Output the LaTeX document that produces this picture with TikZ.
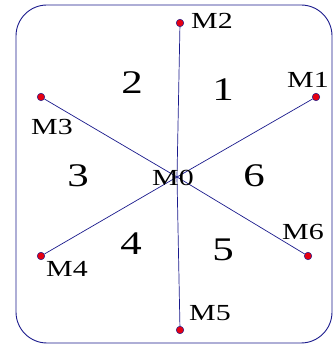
\documentclass[tikz,border=0pt]{standalone}
\usepackage{fontspec}
\setmainfont{Liberation Serif}
\newfontfamily\wideserif[FakeStretch=1.3]{Liberation Serif}
\usepackage{xcolor}
\usepackage{tikz}
\usetikzlibrary{positioning}
\definecolor{navy}{HTML}{1A1A8C}
\definecolor{dotred}{HTML}{E60012}
\tikzset{
  pin/.style={circle,draw=navy,fill=dotred,inner sep=0pt,minimum size=7.5pt,line width=0.5pt},
  ray/.style={draw=navy,line width=0.7pt},
  tag/.style={font=\wideserif\fontsize{23}{23}\selectfont,inner sep=0pt},
  sector/.style={font=\wideserif\fontsize{33}{33}\selectfont,inner sep=0pt}
}
\begin{document}
\begin{tikzpicture}[x=1pt,y=1pt]
  \useasboundingbox (0,0) rectangle (333,347);
  \node[draw=navy,line width=0.9pt,rounded corners=31pt,minimum width=316pt,minimum height=338pt] (frame) at (174,173) {};

  \coordinate (m0) at (177,170);
  \node[pin] (m1) at (316,250) {};
  \node[pin] (m2) at (180,324) {};
  \node[pin] (m3) at (41,250) {};
  \node[pin] (m4) at (41,91) {};
  \node[pin] (m5) at (180,17) {};
  \node[pin] (m6) at (308,91) {};

  \begin{scope}[on background layer/.try]
    \draw[ray] (m2) -- (m0) -- (m5);
    \draw[ray] (m1) -- (m0) -- (m4);
    \draw[ray] (m3) -- (m0) -- (m6);
  \end{scope}

  \node[tag] (t0) at (173,169) {M0};
  \node[tag] (t1) at (308,267) {M1};
  \node[tag] (t2) at (212,326) {M2};
  \node[tag] (t3) at (52,220) {M3};
  \node[tag] (t4) at (67,78) {M4};
  \node[tag] (t5) at (210,34) {M5};
  \node[tag] (t6) at (303,115) {M6};

  \node[sector] (s1) at (223,257) {1};
  \node[sector] (s2) at (132,264) {2};
  \node[sector] (s3) at (78,171) {3};
  \node[sector] (s4) at (131,103) {4};
  \node[sector] (s5) at (223,97) {5};
  \node[sector] (s6) at (254,171) {6};
\end{tikzpicture}
\end{document}
